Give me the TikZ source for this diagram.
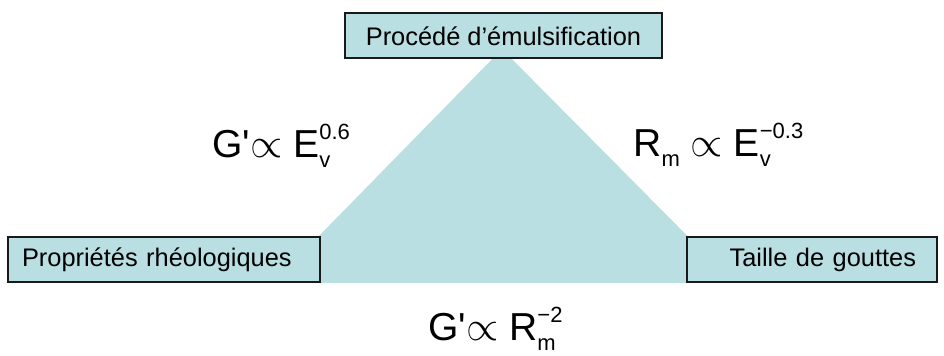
\documentclass[tikz,border=0pt]{standalone}
\usepackage{fontspec}
\setmainfont{Liberation Sans}
\definecolor{pale}{RGB}{185,223,226}
\newcommand{\scr}{\fontsize{11}{11}\selectfont}
\newcommand{\lo}[1]{\raisebox{-0.25em}{\scr #1}}
\newcommand{\hi}[1]{\raisebox{0.48em}{\scr #1}}
\newcommand{\gp}{G\textquotesingle}

\begin{document}
\begin{tikzpicture}[x=0.5pt, y=0.5pt,
  box/.style={draw=black!90, line width=1pt, fill=pale, minimum height=22.5pt,
    font=\fontsize{12.7}{14}\selectfont},
  eq/.style={anchor=base west, inner sep=0pt, font=\fontsize{19.5}{22}\selectfont}]
  \useasboundingbox (0,0) rectangle (944,356);
  % shaded triangle behind the boxes
  \fill[pale] (502,307) -- (273,73) -- (734,73) -- cycle;
  \node[box, minimum width=158.5pt] (proc) at (503.5,320) {Procédé d’émulsification};
  \node[box, minimum width=156pt, inner xsep=7pt, text width=142pt, align=left] (rheo) at (164,96.5) {Propriétés rhéologiques};
  \node[box, minimum width=125pt, inner xsep=10.5pt, text width=104pt, align=right] (drop) at (812,96.5) {Taille de gouttes};
  % relations
  \node[eq] (gE) at (212,198) {\gp$\propto$ E\rlap{\lo{v}}\hi{0.6}};
  \node[eq] (rE) at (633,199) {R\lo{m} $\propto$ E\rlap{\lo{v}}\hi{−0.3}};
  \node[eq] (gR) at (428,15) {\gp$\propto$ R\rlap{\lo{m}}\hi{−2}};
\end{tikzpicture}
\end{document}
